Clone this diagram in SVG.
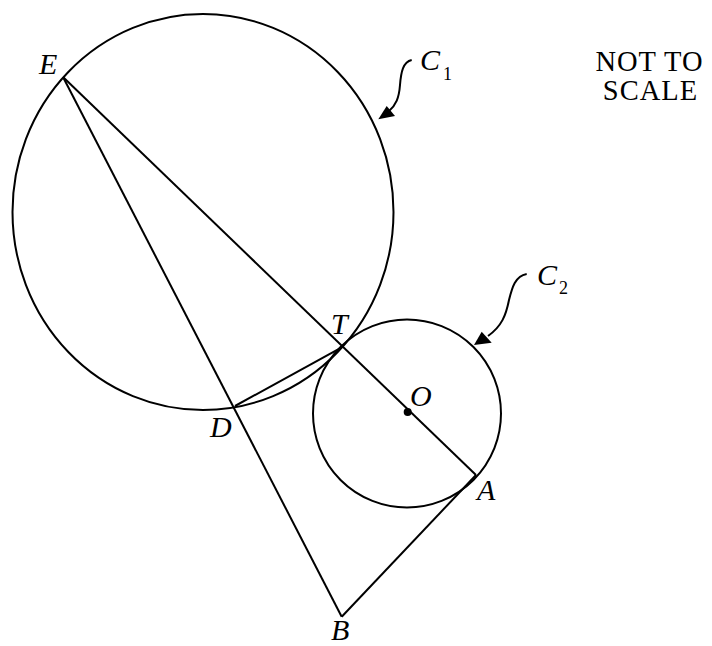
<svg xmlns="http://www.w3.org/2000/svg" width="712" height="646" viewBox="0 0 712 646">
<style>
.ln{fill:none;stroke:#000;stroke-width:2}
.lab{font-family:"Liberation Serif",serif;font-style:italic;font-size:30px;fill:#000}
.sub{font-family:"Liberation Serif",serif;font-size:18px;fill:#000}
.note{font-family:"Liberation Serif",serif;font-size:28.5px;fill:#000;letter-spacing:1px}
.ah{fill:#000;stroke:none}
</style>
<rect width="712" height="646" fill="#fff"/>
<g id="C1">
<ellipse class="ln" cx="203" cy="212" rx="190.5" ry="198"/>
</g>
<g id="C2">
<circle class="ln" cx="407" cy="413.5" r="94"/>
</g>
<g id="connectors">
<line class="ln" x1="63" y1="77" x2="476" y2="475"/>
<line class="ln" x1="63" y1="77" x2="341.7" y2="616.7"/>
<line class="ln" x1="235" y1="406" x2="341.7" y2="347.3"/>
<line class="ln" x1="476" y1="475" x2="341.7" y2="616.7"/>
<path class="ln" d="M411.7,60 C403,62 401,72 400,85 C399,98 396,105 389,111"/>
<polygon class="ah" points="378.3,119.3 386.7,106 395,116"/>
<path class="ln" d="M526.7,274 C515,276 512,288 509,300 C506,315 502,326 488,336"/>
<polygon class="ah" points="474,345 481.7,331.7 491.7,342.7"/>
</g>
<g id="O">
<circle cx="407.7" cy="412" r="4" fill="#000"/>
<text class="lab" x="410" y="406">O</text>
</g>
<g id="E"><text class="lab" x="39" y="74">E</text></g>
<g id="T"><text class="lab" x="331" y="334">T</text></g>
<g id="D"><text class="lab" x="210" y="437">D</text></g>
<g id="A"><text class="lab" x="477" y="500">A</text></g>
<g id="B"><text class="lab" x="331" y="640">B</text></g>
<g id="C1label"><text class="lab" x="420" y="70">C</text><text class="sub" x="443" y="79.5">1</text></g>
<g id="C2label"><text class="lab" x="537" y="285">C</text><text class="sub" x="559" y="293.5">2</text></g>
<g id="note">
<text class="note" x="649.5" y="70.7" text-anchor="middle">NOT TO</text>
<text class="note" x="650.5" y="100" text-anchor="middle">SCALE</text>
</g>
</svg>
